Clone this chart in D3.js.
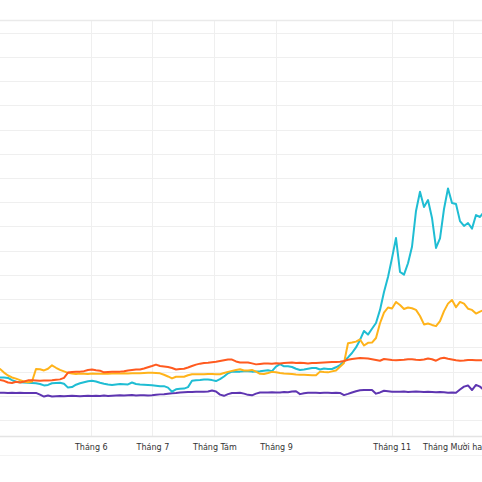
<!DOCTYPE html>
<html>
<head>
<meta charset="utf-8">
<script src="https://cdn.jsdelivr.net/npm/d3@7"></script>
<style>
	html, body { margin: 0; padding: 0; background: #fff; }
	svg { display: block; }
	.grid line { stroke: #efefef; stroke-width: 1; }
	.series { fill: none; stroke-width: 2; stroke-linejoin: round; stroke-linecap: round; }
	.tick-label { font-family: "DejaVu Sans", Verdana, sans-serif; font-size: 8px; fill: #333; }
</style>
</head>
<body>
<svg id="chart" width="482" height="482"></svg>
<script>
// one sample every step along the x axis (index based)
const purpleValues = [
	11.3, 11.3, 11.2, 11.3, 11.2, 11.3, 11.2, 11.2, 11.2, 11.2,
	10.5, 9.7, 10.1, 9.7, 9.8, 9.9, 9.8, 9.9, 10.0, 9.9,
	9.8, 9.9, 10.0, 9.9, 10.0, 9.9, 10.1, 9.9, 10.0, 10.1,
	10.2, 10.1, 10.2, 10.3, 10.1, 10.2, 10.2, 10.1, 10.2, 10.4,
	10.6, 10.7, 10.9, 11.1, 11.2, 11.4, 11.5, 11.6, 11.6, 11.7,
	11.7, 11.7, 11.8, 12.2, 11.8, 10.5, 10.0, 10.7, 11.2, 11.2,
	11.3, 10.9, 10.4, 10.2, 10.9, 11.4, 11.4, 11.4, 11.5, 11.4,
	11.4, 11.6, 11.5, 11.8, 11.9, 10.7, 11.1, 11.3, 11.3, 11.3,
	11.2, 11.3, 11.3, 11.2, 11.3, 11.2, 10.3, 10.8, 11.4, 11.9,
	12.3, 12.4, 12.4, 12.4, 10.9, 11.4, 12.1, 11.9, 11.7, 11.7,
	11.7, 11.8, 11.6, 11.7, 11.8, 11.7, 11.6, 11.7, 11.6, 11.5,
	11.6, 11.5, 11.3, 11.4, 11.3, 12.6, 13.8, 14.3, 12.4, 14.5,
	13.8, 12.4
];

const cyanValues = [
	17.6, 17.6, 17.4, 16.5, 15.8, 15.6, 15.5, 15.4, 15.3, 15.2,
	14.9, 14.3, 14.5, 15.2, 15.3, 15.4, 15.0, 13.4, 13.6, 14.6,
	15.2, 15.6, 16.0, 16.2, 15.9, 15.4, 15.0, 14.7, 14.5, 14.7,
	14.9, 14.8, 14.7, 15.5, 14.9, 14.7, 14.6, 14.5, 14.4, 14.2,
	14.0, 14.0, 13.4, 11.7, 12.7, 12.9, 13.0, 13.6, 16.2, 16.4,
	16.5, 16.7, 16.7, 16.5, 16.1, 16.9, 18.0, 19.3, 20.0, 20.0,
	20.0, 20.2, 20.2, 20.0, 20.1, 20.2, 20.4, 20.6, 20.2, 22.1,
	23.1, 22.2, 22.2, 21.9, 21.2, 20.7, 20.9, 21.2, 21.5, 21.5,
	20.9, 21.3, 21.1, 21.1, 21.8, 22.7, 24.2, 25.9, 27.7, 30.0,
	33.1, 36.8, 35.3, 37.7, 40.1, 45.5, 52.9, 59.1, 66.9, 75.2,
	61.2, 60.1, 64.8, 71.6, 86.4, 94.3, 88.0, 90.9, 83.5, 71.1,
	75.1, 87.2, 95.7, 89.7, 89.3, 82.2, 80.2, 81.4, 79.1, 84.7,
	83.9, 86.0
];

const yellowValues = [
	21.1, 19.6, 18.4, 17.6, 17.1, 16.5, 15.9, 15.6, 15.9, 21.1,
	21.0, 20.5, 21.2, 22.6, 21.6, 20.7, 20.1, 19.5, 19.2, 19.0,
	19.2, 19.1, 19.0, 19.2, 19.1, 19.1, 19.2, 19.1, 19.2, 19.3,
	19.2, 19.3, 19.2, 19.3, 19.3, 19.3, 19.4, 19.5, 19.5, 19.4,
	19.3, 18.7, 18.0, 17.2, 17.9, 17.9, 17.9, 18.5, 18.9, 18.9,
	18.9, 18.9, 19.0, 19.0, 18.9, 18.9, 19.4, 19.9, 20.3, 20.7,
	21.0, 20.5, 20.5, 20.7, 20.0, 19.1, 19.0, 19.4, 19.9, 19.7,
	19.4, 19.2, 19.1, 19.0, 18.8, 18.7, 18.7, 18.6, 18.5, 18.5,
	20.0, 19.8, 19.7, 20.1, 20.5, 22.0, 23.6, 31.7, 32.0, 32.4,
	33.3, 30.8, 31.9, 32.0, 33.9, 40.0, 44.4, 46.5, 46.1, 48.8,
	47.5, 45.9, 46.5, 46.2, 45.5, 43.0, 39.5, 39.9, 39.3, 38.8,
	40.9, 45.0, 48.1, 49.6, 46.6, 48.8, 48.1, 46.0, 45.5, 44.0,
	44.8, 45.5
];

const orangeValues = [
	16.5, 16.2, 15.5, 15.3, 15.8, 15.5, 15.9, 16.4, 16.4, 16.3,
	16.2, 16.3, 16.3, 16.4, 16.6, 16.8, 17.4, 19.6, 19.8, 19.9,
	20.0, 20.2, 20.7, 20.9, 20.6, 20.4, 19.7, 19.8, 19.9, 19.9,
	20.0, 20.2, 20.5, 20.7, 20.9, 20.9, 21.3, 21.8, 22.3, 22.9,
	22.3, 22.1, 21.9, 21.5, 20.9, 21.1, 21.2, 21.7, 22.3, 22.9,
	23.3, 23.6, 23.7, 23.9, 24.1, 24.4, 24.7, 25.0, 25.0, 24.2,
	23.8, 23.8, 23.8, 23.4, 23.0, 23.2, 23.4, 23.4, 23.3, 23.5,
	23.4, 23.6, 23.7, 23.8, 23.6, 23.7, 23.6, 23.4, 23.6, 23.6,
	23.7, 23.8, 23.9, 24.0, 24.0, 24.1, 24.4, 24.9, 25.2, 25.4,
	25.6, 25.5, 25.4, 25.1, 24.8, 24.5, 25.2, 25.0, 24.8, 24.7,
	24.8, 24.9, 25.1, 25.1, 24.9, 24.8, 25.0, 25.4, 25.1, 24.5,
	25.4, 25.7, 25.3, 25.0, 24.7, 24.5, 24.6, 24.8, 24.8, 24.7,
	24.7, 24.7
];

// month ticks, placed on the sample index axis
const tickLabels = ["Tháng 6", "Tháng 7", "Tháng Tám", "Tháng 9", "Tháng 11", "Tháng Mười hai"];
const tickIndex = [22.7, 38.1, 53.6, 69.0, 97.9, 113.3];

const yGridValues = d3.range(0, 170, 10);

const seriesList = [
	{ name: "purple", color: "#5e35b1", values: purpleValues },
	{ name: "cyan", color: "#1fbdd3", values: cyanValues },
	{ name: "yellow", color: "#ffb31a", values: yellowValues },
	{ name: "orange", color: "#ff5a1f", values: orangeValues },
];

const svg = d3.select("svg#chart");
const bounds = { minX: 0, maxX: 482, minY: 20, maxY: 436 };

const scaleX = d3.scaleLinear().domain([0, 120.5]).range([bounds.minX, bounds.maxX]);
const scaleY = d3.scaleLinear().domain([-6.6, 165.3]).range([bounds.maxY, bounds.minY]);

// horizontal grid
svg.append("g").attr("class", "grid")
	.selectAll("line")
	.data(yGridValues)
	.join("line")
	.attr("x1", bounds.minX)
	.attr("x2", bounds.maxX)
	.attr("y1", d => Math.round(scaleY(d)) + 0.5)
	.attr("y2", d => Math.round(scaleY(d)) + 0.5);

// vertical grid at month ticks
svg.append("g").attr("class", "grid")
	.selectAll("line")
	.data(tickIndex)
	.join("line")
	.attr("x1", d => Math.round(scaleX(d)) + 0.5)
	.attr("x2", d => Math.round(scaleX(d)) + 0.5)
	.attr("y1", bounds.minY)
	.attr("y2", bounds.maxY);

// frame lines
svg.append("line")
	.attr("x1", 0).attr("x2", 482)
	.attr("y1", bounds.minY + 0.5).attr("y2", bounds.minY + 0.5)
	.attr("stroke", "#eaeaea").attr("stroke-width", 1.5);
svg.append("line")
	.attr("x1", 0).attr("x2", 482)
	.attr("y1", bounds.maxY + 0.5).attr("y2", bounds.maxY + 0.5)
	.attr("stroke", "#e4e4e4").attr("stroke-width", 1.5);
svg.append("line")
	.attr("x1", 0).attr("x2", 482)
	.attr("y1", 455.5).attr("y2", 455.5)
	.attr("stroke", "#f3f3f3");

// x axis labels
const xAxis = d3.axisBottom(scaleX)
	.tickValues(tickIndex)
	.tickFormat((_, i) => tickLabels[i])
	.tickSize(0)
	.tickPadding(0);
const axisG = svg.append("g")
	.attr("transform", `translate(0 ${bounds.maxY})`)
	.call(xAxis);
axisG.select(".domain").remove();
axisG.selectAll("text")
	.attr("class", "tick-label")
	.attr("dy", null)
	.attr("y", 14)
	.attr("fill", null);

// lines
const line = d3.line()
	.x((_, i) => scaleX(i))
	.y(d => scaleY(d));

svg.append("g")
	.selectAll("path")
	.data(seriesList)
	.join("path")
	.attr("class", "series")
	.attr("stroke", d => d.color)
	.attr("d", d => line(d.values));
</script>
</body>
</html>
